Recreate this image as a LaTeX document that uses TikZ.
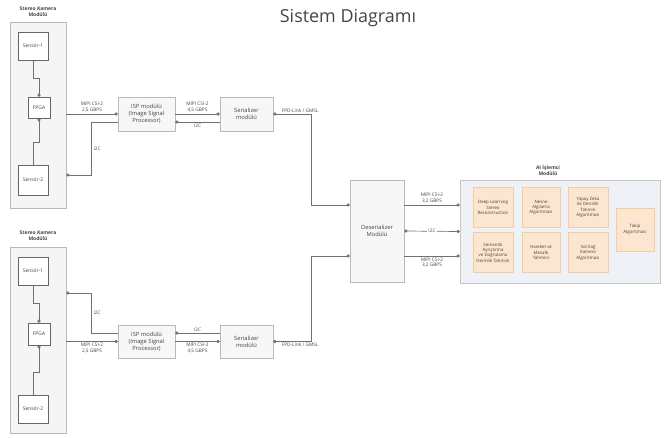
\documentclass[tikz,border=0pt]{standalone}
\usepackage{fontspec}
\setmainfont{Open Sans}
\usetikzlibrary{arrows.meta}
\definecolor{cizgi}{HTML}{707070}
\definecolor{yazi}{HTML}{444444}
\definecolor{aizemin}{HTML}{EEF2F6}
\definecolor{turuncu}{HTML}{FCE6CF}
\definecolor{turuncukenar}{HTML}{F2CDA2}
\tikzset{
  modul/.style={draw=gray!55, fill=gray!8, minimum width=56bp, minimum height=186bp, inner sep=0pt},
  blok/.style={draw=gray!80!black, fill=white, inner sep=0pt, text=yazi,
    font=\fontsize{5}{6}\selectfont, align=center},
  isleme/.style={draw=gray!55, fill=gray!6, inner sep=0pt, text=yazi,
    font=\fontsize{5.8}{7}\selectfont, align=center},
  yapay/.style={draw=turuncukenar, fill=turuncu, inner sep=0pt, text=yazi,
    minimum height=40bp, font=\fontsize{4.4}{5.4}\selectfont, align=center},
  modulad/.style={text=yazi, font=\bfseries\fontsize{5}{5.8}\selectfont, align=center},
  etiket/.style={text=yazi, font=\fontsize{4.8}{5.6}\selectfont, align=center, inner sep=1.5bp},
  hat/.style={draw=cizgi, line width=0.7bp},
  nokta/.style={-{Circle[length=3.2bp]}},
  iki/.style={{Circle[length=3.2bp]}-{Circle[length=3.2bp]}}
}
\begin{document}
\begin{tikzpicture}[x=1bp, y=-1bp]
  \useasboundingbox (0,0) rectangle (670,438);
  % Title
  \node[text=yazi, font=\fontsize{18}{21}\selectfont] (baslik) at (348,18) {Sistem Diagramı};

  % Top stereo camera module
  \node[modulad] (adA) at (38,12) {Stereo Kamera\\Modülü};
  \node[modul] (camA) at (38,115) {};
  \node[blok, minimum width=30bp, minimum height=28bp] (s1A) at (33,46) {Sensör-1};
  \node[blok, minimum width=22bp, minimum height=21bp] (fpgaA) at (39,107.5) {FPGA};
  \node[blok, minimum width=30bp, minimum height=30bp] (s2A) at (33,180) {Sensör-2};
  \draw[hat, nokta] (s1A.south) -- ++(0,18) -| (fpgaA.north);
  \draw[hat, nokta] (s2A.north) -- ++(0,-22) -| (fpgaA.south);

  % Bottom stereo camera module
  \node[modulad] (adB) at (38,236) {Stereo Kamera\\Modülü};
  \node[modul] (camB) at (38,340) {};
  \node[blok, minimum width=30bp, minimum height=28bp] (s1B) at (33,271) {Sensör-1};
  \node[blok, minimum width=22bp, minimum height=22bp] (fpgaB) at (39,334) {FPGA};
  \node[blok, minimum width=30bp, minimum height=28bp] (s2B) at (33,409) {Sensör-2};
  \draw[hat, nokta] (s1B.south) -- ++(0,18) -| (fpgaB.north);
  \draw[hat, nokta] (s2B.north) -- ++(0,-22) -| (fpgaB.south);

  % ISP and serializer blocks
  \node[isleme, minimum width=57bp, minimum height=34bp] (ispA) at (146.5,114) {ISP modülü\\(Image Signal\\Processor)};
  \node[isleme, minimum width=53bp, minimum height=34bp] (serA) at (246.5,114) {Serializer\\modülü};
  \node[isleme, minimum width=57bp, minimum height=33bp] (ispB) at (146.5,341.5) {ISP modülü\\(Image Signal\\Processor)};
  \node[isleme, minimum width=53bp, minimum height=33bp] (serB) at (246.5,341.5) {Serializer\\modülü};

  % Deserializer
  \node[isleme, minimum width=54bp, minimum height=102bp] (desA) at (377,231) {Deserializer\\Modülü};
  \coordinate (desUst) at ([yshift=26bp]desA.east);
  \coordinate (desAlt) at ([yshift=-25bp]desA.east);

  % AI processor module
  \node[modulad] (adAI) at (548,170) {AI İşlemci\\Modülü};
  \node[draw=gray!45, fill=aizemin, minimum width=200bp, minimum height=103bp] (ai) at (560,231.5) {};
  \node[yapay, minimum width=40bp] (b1) at (493,207.5) {Deep Learning\\Stereo\\Reconstruction};
  \node[yapay, minimum width=38bp] (b2) at (541,207.5) {Nesne\\Algılama\\Algoritması};
  \node[yapay, minimum width=40bp] (b3) at (588,207.5) {Yapay Zeka\\ile Derinlik\\Tahmin\\Algoritması};
  \node[yapay, minimum width=40bp] (b4) at (493,252.5) {Semantik\\Ayrıştırma\\ve Doğrulama\\Derinlik Tahmini};
  \node[yapay, minimum width=38bp] (b5) at (541,252.5) {Hareket ve\\Mesafe\\Tahmini};
  \node[yapay, minimum width=40bp] (b6) at (588,252.5) {Sol-Sağ\\Kamera\\Algoritması};
  \node[yapay, minimum width=38bp, minimum height=43bp] (b7) at (635,229.5) {Takip\\Algoritması};

  % Top chain connectors
  \draw[hat, nokta] (camA.east |- ispA.west) -- node[etiket, above] {MIPI CSI-2\\2,5 GBPS} (ispA.west);
  \draw[hat, nokta] ([yshift=-8bp]ispA.west) -- ++(-26,0) |- node[etiket, right, pos=0.25] {I2C} ([yshift=-60bp]camA.east);
  \draw[hat, nokta] (ispA.east) -- node[etiket, above] {MIPI CSI-2\\4,5 GBPS} (serA.west);
  \draw[hat, nokta] ([yshift=-8bp]serA.west) -- node[etiket, below] {I2C} ([yshift=-8bp]ispA.east);
  \draw[hat, iki] (serA.east) -- node[etiket, above, xshift=8bp] {FPD-Link / GMSL} ++(38,0) |- (desA.west |- desUst);

  % Bottom chain connectors
  \draw[hat, nokta] (camB.east |- ispB.west) -- node[etiket, below] {MIPI CSI-2\\2,5 GBPS} (ispB.west);
  \draw[hat, nokta] ([yshift=8.5bp]ispB.west) -- ++(-26,0) |- node[etiket, right, pos=0.25] {I2C} ([yshift=47bp]camB.east);
  \draw[hat, nokta] (ispB.east) -- node[etiket, below] {MIPI CSI-2\\4,5 GBPS} (serB.west);
  \draw[hat, nokta] ([yshift=8.5bp]serB.west) -- node[etiket, above] {I2C} ([yshift=8.5bp]ispB.east);
  \draw[hat, iki] (serB.east) -- node[etiket, below, xshift=8bp] {FPD-Link / GMSL} ++(38,0) |- (desA.west |- desAlt);

  % Deserializer to AI module
  \draw[hat, nokta] (desUst) -- node[etiket, above] {MIPI CSI-2\\3,2 GBPS} (desUst -| ai.west);
  \draw[hat, iki] (desA.east) -- node[etiket, fill=white] {I2C} (ai.west);
  \draw[hat, nokta] (desAlt) -- node[etiket, below] {MIPI CSI-2\\3,2 GBPS} (desAlt -| ai.west);
\end{tikzpicture}
\end{document}
